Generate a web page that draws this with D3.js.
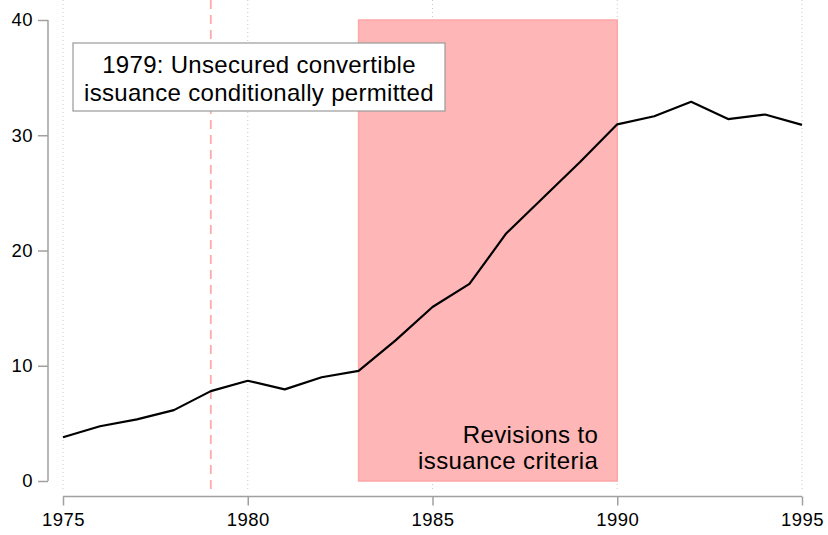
<!DOCTYPE html>
<html>
<head>
<meta charset="utf-8">
<script src="https://cdn.jsdelivr.net/npm/d3@7"></script>
<style>
  body { margin: 0; background: #fff; }
  text { font-family: "Liberation Sans", Arial, Helvetica, sans-serif; fill: #000; }
</style>
</head>
<body>
<div id="chart"></div>
<script>
// series
var years = [1975, 1976, 1977, 1978, 1979, 1980, 1981, 1982, 1983, 1984, 1985,
             1986, 1987, 1988, 1989, 1990, 1991, 1992, 1993, 1994, 1995];
var values = [3.8, 4.75, 5.35, 6.15, 7.8, 8.7, 7.95, 9.0, 9.55, 12.2, 15.1,
              17.1, 21.5, 24.6, 27.7, 30.95, 31.65, 32.9, 31.4, 31.8, 30.9];
var xTicks = [1975, 1980, 1985, 1990, 1995];
var yTicks = [0, 10, 20, 30, 40];
var eventYear = 1979;
var revisionSpan = [1983, 1990];
var boxLines = ["1979: Unsecured convertible", "issuance conditionally permitted"];
var shadeLines = ["Revisions to", "issuance criteria"];

var width = 828, height = 535;

var x = d3.scaleLinear().domain([1975, 1995]).range([63, 802]);
var y = d3.scaleLinear().domain([0, 40]).range([481, 20]);

var svg = d3.select("#chart")
  .append("svg")
    .attr("width", width)
    .attr("height", height);

// dotted vertical grid
svg.selectAll(".grid")
  .data(xTicks)
  .enter()
  .append("line")
    .attr("x1", function(d) { return x(d); })
    .attr("x2", function(d) { return x(d); })
    .attr("y1", 0)
    .attr("y2", 490)
    .attr("stroke", "#c8c8c8")
    .attr("stroke-width", 1)
    .attr("stroke-dasharray", "1,3");

// shaded period
svg.append("rect")
  .attr("x", x(revisionSpan[0]))
  .attr("y", y(40))
  .attr("width", x(revisionSpan[1]) - x(revisionSpan[0]))
  .attr("height", y(0) - y(40))
  .attr("fill", "#ffb6b6")
  .attr("stroke", "#ffa6a6")
  .attr("stroke-width", 1.5);

// event line
svg.append("line")
  .attr("x1", x(eventYear))
  .attr("x2", x(eventYear))
  .attr("y1", 0)
  .attr("y2", 495)
  .attr("stroke", "#ffaaaa")
  .attr("stroke-width", 1.8)
  .attr("stroke-dasharray", "9,6");

// series line
var line = d3.line()
  .x(function(d, i) { return x(years[i]); })
  .y(function(d) { return y(d); });

svg.append("path")
  .datum(values)
  .attr("d", line)
  .attr("fill", "none")
  .attr("stroke", "#000")
  .attr("stroke-width", 2.2)
  .attr("stroke-linejoin", "round");

// axes
var xAxis = svg.append("g")
  .attr("transform", "translate(0,496.5)")
  .call(d3.axisBottom(x).tickValues(xTicks).tickFormat(d3.format("d")).tickSize(9).tickPadding(7));

var yAxis = svg.append("g")
  .attr("transform", "translate(48,0)")
  .call(d3.axisLeft(y).tickValues(yTicks).tickSize(10).tickPadding(5));

[xAxis, yAxis].forEach(function(g) {
  g.select(".domain").attr("stroke", "#a0a0a0").attr("stroke-width", 1.5);
  g.selectAll(".tick line").attr("stroke", "#a0a0a0").attr("stroke-width", 1.5);
  g.selectAll(".tick text")
    .style("font-family", "'Liberation Sans', Arial, sans-serif")
    .style("font-size", "18.5px")
    .style("letter-spacing", "0.5px")
    .attr("fill", "#000");
});
xAxis.select(".domain").attr("d", "M" + x(1975) + ",0H" + x(1995));
yAxis.select(".domain").attr("d", "M0," + y(40) + "V" + y(0));

// annotation box
svg.append("rect")
  .attr("x", 73)
  .attr("y", 43)
  .attr("width", 372)
  .attr("height", 68)
  .attr("fill", "#fff")
  .attr("stroke", "#999")
  .attr("stroke-width", 1.2);

svg.selectAll(".boxtext")
  .data(boxLines)
  .enter()
  .append("text")
    .attr("x", 259)
    .attr("y", function(d, i) { return 72.5 + i * 28; })
    .attr("text-anchor", "middle")
    .style("font-size", "24px")
    .style("letter-spacing", "0.3px")
    .text(function(d) { return d; });

svg.selectAll(".shadetext")
  .data(shadeLines)
  .enter()
  .append("text")
    .attr("x", x(revisionSpan[1]) - 19)
    .attr("y", function(d, i) { return 443 + i * 25.5; })
    .attr("text-anchor", "end")
    .style("font-size", "24px")
    .style("letter-spacing", "0.4px")
    .text(function(d) { return d; });
</script>
</body>
</html>
